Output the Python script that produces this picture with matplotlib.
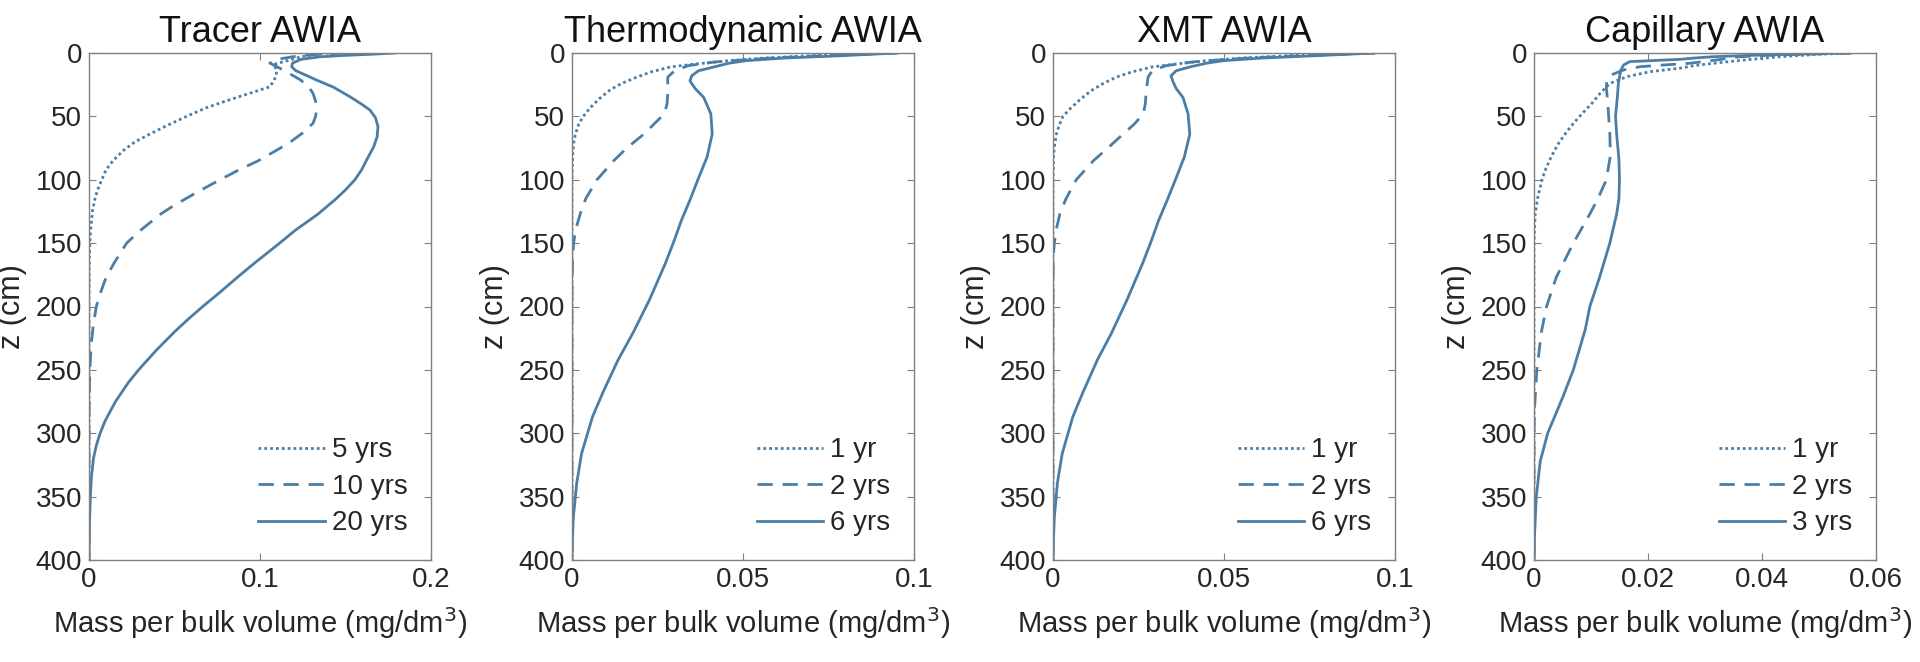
import numpy as np
import matplotlib
matplotlib.use('Agg')
import matplotlib.pyplot as plt

plt.rcParams['font.family'] = ['Liberation Sans', 'DejaVu Sans']

# --- data: depth (cm) and mass per bulk volume (mg/dm3) ---

# Tracer AWIA
tr_z_5 = [0, 1, 3, 5.5, 9, 13.4, 18, 22, 26.6, 31.8, 37, 43, 50, 57, 64, 70, 77, 85, 92, 100, 108, 116, 125, 142,
          160, 200, 400]
tr_c_5 = [0.140, 0.133, 0.124, 0.1175, 0.108, 0.1097, 0.1095, 0.108, 0.1058, 0.094, 0.082, 0.069, 0.057, 0.046,
          0.0355, 0.027, 0.020, 0.014, 0.010, 0.0075, 0.005, 0.0033, 0.002, 0.0008, 0.0002, 0.0, 0.0]
tr_z_10 = [0, 1, 2, 3, 5, 8, 13.4, 21, 26, 31.8, 38, 45, 50, 55.5, 63, 70, 76.5, 85, 92, 100, 110, 120, 127, 140,
           150, 165, 177, 190, 200, 215, 230, 250, 280, 300, 400]
tr_c_10 = [0.150, 0.135, 0.125, 0.119, 0.110, 0.1058, 0.1136, 0.1234, 0.128, 0.131, 0.1325, 0.133, 0.1325, 0.131,
           0.125, 0.118, 0.110, 0.099, 0.088, 0.0766, 0.063, 0.050, 0.042, 0.030, 0.022, 0.015, 0.010, 0.0065,
           0.0043, 0.0025, 0.0013, 0.0005, 0.0001, 0.0, 0.0]
tr_z_20 = [0, 1, 2, 3, 5, 8, 10.8, 14, 17, 21.3, 27, 34.5, 40, 45, 51, 58, 66, 74, 84, 92, 100, 108, 115, 127, 140,
           150, 165, 175, 190, 200, 210, 220, 235, 250, 260, 275, 290, 300, 310, 320, 335, 350, 370, 400]
tr_c_20 = [0.179, 0.165, 0.148, 0.135, 0.124, 0.119, 0.1185, 0.121, 0.126, 0.133, 0.143, 0.1526, 0.159, 0.1643,
           0.1675, 0.169, 0.1685, 0.1665, 0.1625, 0.1595, 0.1555, 0.150, 0.1445, 0.134, 0.1205, 0.1115, 0.0975,
           0.0885, 0.0755, 0.0665, 0.058, 0.050, 0.039, 0.029, 0.023, 0.0155, 0.0095, 0.0065, 0.0042, 0.0026,
           0.0014, 0.0008, 0.0003, 0.0]

# Thermodynamic AWIA
th_z_1 = [0, 2, 4, 6, 9, 11, 15, 19, 24, 29, 36, 43, 50, 56, 64, 71, 80, 100, 400]
th_c_1 = [0.095, 0.071, 0.056, 0.046, 0.035, 0.0288, 0.023, 0.019, 0.0145, 0.0112, 0.008, 0.0054, 0.0033, 0.002,
          0.001, 0.0005, 0.0002, 0.0, 0.0]
th_z_2 = [0, 2, 4, 7, 10, 14, 19, 25, 32, 40, 48, 56, 64, 75, 85, 100, 115, 127, 140, 150, 160, 180, 400]
th_c_2 = [0.095, 0.075, 0.058, 0.042, 0.034, 0.030, 0.028, 0.028, 0.028, 0.0278, 0.027, 0.024, 0.021, 0.016,
          0.0122, 0.0073, 0.004, 0.0024, 0.001, 0.0005, 0.0002, 0.0, 0.0]
th_z_6 = [0, 2, 4, 6, 8, 11, 14, 18, 22, 28, 35, 48, 64, 82, 100, 116, 132, 150, 166, 195, 221, 242, 268, 287, 316,
          339, 366, 385, 400]
th_c_6 = [0.095, 0.080, 0.062, 0.051, 0.046, 0.0415, 0.037, 0.035, 0.0345, 0.036, 0.0385, 0.0406, 0.041, 0.0395,
          0.0368, 0.0345, 0.0320, 0.0296, 0.0273, 0.0226, 0.0178, 0.0135, 0.0090, 0.0060, 0.0028, 0.0014, 0.0004,
          0.0001, 0.0]

# XMT AWIA
xm_z_1 = [0, 2, 4, 6, 9, 11, 15, 19, 24, 30, 37, 44, 50, 57, 64, 72, 80, 100, 400]
xm_c_1 = [0.094, 0.070, 0.055, 0.045, 0.035, 0.029, 0.023, 0.0185, 0.0147, 0.011, 0.0078, 0.005, 0.0029, 0.0018,
          0.001, 0.0005, 0.0002, 0.0, 0.0]
xm_z_2 = [0, 2, 4, 7, 10, 14, 19, 25, 32, 40, 48, 56, 64, 75, 85, 100, 115, 127, 140, 150, 160, 180, 400]
xm_c_2 = [0.094, 0.074, 0.057, 0.041, 0.033, 0.029, 0.0278, 0.0275, 0.0272, 0.027, 0.0264, 0.0238, 0.0205, 0.016,
          0.0118, 0.0068, 0.0038, 0.002, 0.0009, 0.0004, 0.0001, 0.0, 0.0]
xm_z_6 = [0, 2, 4, 6, 8, 11, 14, 18, 22, 28, 35, 48, 64, 82, 100, 116, 132, 150, 166, 195, 221, 242, 268, 287, 316,
          339, 366, 385, 400]
xm_c_6 = [0.094, 0.078, 0.061, 0.050, 0.045, 0.040, 0.036, 0.0345, 0.035, 0.036, 0.038, 0.0395, 0.040, 0.0384,
          0.0358, 0.0334, 0.0309, 0.0285, 0.0262, 0.0216, 0.0171, 0.0130, 0.0087, 0.0058, 0.0027, 0.0013, 0.0004,
          0.0001, 0.0]

# Capillary AWIA
ca_z_1 = [0, 1, 3, 5.5, 8.1, 10, 12, 14.7, 18.7, 24, 31.8, 40, 47.6, 55, 63, 72, 82, 91, 100, 113, 127, 150, 400]
ca_c_1 = [0.0555, 0.050, 0.043, 0.037, 0.0315, 0.028, 0.0256, 0.0204, 0.0163, 0.0133, 0.0116, 0.0101, 0.0085,
          0.0070, 0.0056, 0.0042, 0.003, 0.0021, 0.0014, 0.0007, 0.0002, 0.0, 0.0]
ca_z_2 = [0, 1, 2, 3, 5.5, 8.1, 9.5, 10.8, 13.4, 17.4, 21.3, 28, 37, 50, 63, 81, 100, 115, 127, 150, 177, 200, 220,
          250, 280, 300, 400]
ca_c_2 = [0.0555, 0.047, 0.040, 0.036, 0.032, 0.0274, 0.0226, 0.0186, 0.0157, 0.0135, 0.01275, 0.0127, 0.0129,
          0.0131, 0.0133, 0.0134, 0.0127, 0.0112, 0.0098, 0.0069, 0.0039, 0.0022, 0.0013, 0.0005, 0.0001, 0.0, 0.0]
ca_z_3 = [0, 1, 2, 2.9, 4, 5, 6.8, 9.5, 14, 24, 36, 50, 64, 84, 100, 115, 127, 150, 177, 200, 218, 250, 271, 300,
          322, 350, 380, 400]
ca_c_3 = [0.0555, 0.045, 0.037, 0.0315, 0.028, 0.0256, 0.0168, 0.0157, 0.0152, 0.0148, 0.0146, 0.0143, 0.0145,
          0.0149, 0.015, 0.0149, 0.0145, 0.0133, 0.0115, 0.0098, 0.009, 0.0069, 0.0051, 0.0024, 0.0011, 0.0004,
          0.0001, 0.0]

titles = ['Tracer AWIA', 'Thermodynamic AWIA', 'XMT AWIA', 'Capillary AWIA']
labels = [['5 yrs', '10 yrs', '20 yrs'],
          ['1 yr', '2 yrs', '6 yrs'],
          ['1 yr', '2 yrs', '6 yrs'],
          ['1 yr', '2 yrs', '3 yrs']]
curves = [[(tr_z_5, tr_c_5), (tr_z_10, tr_c_10), (tr_z_20, tr_c_20)],
          [(th_z_1, th_c_1), (th_z_2, th_c_2), (th_z_6, th_c_6)],
          [(xm_z_1, xm_c_1), (xm_z_2, xm_c_2), (xm_z_6, xm_c_6)],
          [(ca_z_1, ca_c_1), (ca_z_2, ca_c_2), (ca_z_3, ca_c_3)]]
xlims = [0.2, 0.1, 0.1, 0.06]
xticks = [[0, 0.1, 0.2], [0, 0.05, 0.1], [0, 0.05, 0.1], [0, 0.02, 0.04, 0.06]]
xticklabels = [['0', '0.1', '0.2'], ['0', '0.05', '0.1'], ['0', '0.05', '0.1'], ['0', '0.02', '0.04', '0.06']]

col = '#4b7ea6'
styles = [(0, (1, 1.1)), (0, (5.5, 3.5)), '-']
txt = '#262626'

fig = plt.figure(figsize=(19.2, 6.62), dpi=100)
lefts = [89, 572, 1053, 1534]
for i in range(4):
    ax = fig.add_axes([lefts[i] / 1920, 1 - 560 / 662, 342 / 1920, (560 - 53) / 662])
    for j in range(3):
        z, c = curves[i][j]
        ax.plot(c, z, color=col, linestyle=styles[j], lw=2.0, label=labels[i][j])
    ax.set_xlim(0, xlims[i])
    ax.set_ylim(400, 0)
    ax.set_xticks(xticks[i])
    ax.set_xticklabels(xticklabels[i])
    ax.set_yticks(np.arange(0, 401, 50))
    ax.tick_params(direction='in', top=True, right=True, length=5, width=0.8,
                   labelsize=20, colors='#808080', labelcolor=txt, pad=5)
    for s in ax.spines.values():
        s.set_color('#808080')
        s.set_linewidth(1.0)
    ax.set_title(titles[i], fontsize=26, color='#111111', pad=8)
    ax.set_xlabel('Mass per bulk volume (mg/dm$^3$)', fontsize=21, color=txt, labelpad=9)
    ax.set_ylabel('z (cm)', fontsize=22, color=txt)
    ax.yaxis.set_label_coords(-0.181, 0.5)
    leg = ax.legend(loc='lower right', frameon=False, fontsize=20, handlelength=2.4,
                    handletextpad=0.25, labelspacing=0.38, borderaxespad=0.45)
    for t in leg.get_texts():
        t.set_color(txt)

fig.savefig('out.png', dpi=100)
